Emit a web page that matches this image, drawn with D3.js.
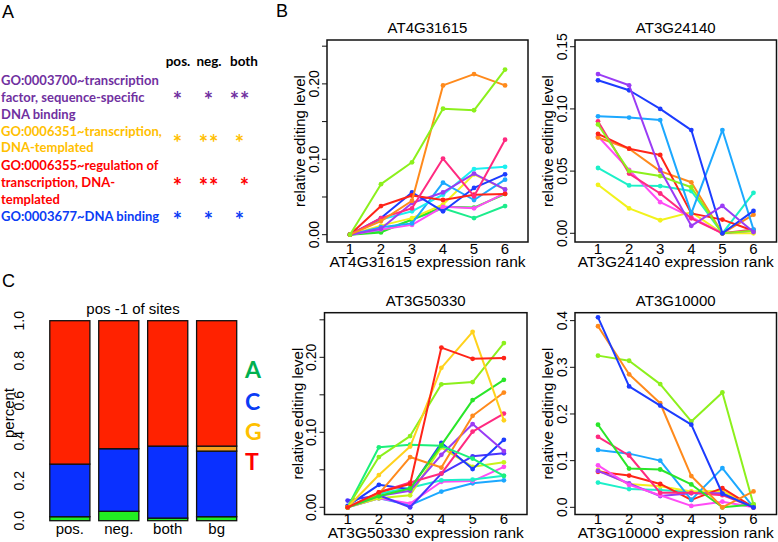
<!DOCTYPE html>
<html>
<head>
<meta charset="utf-8">
<script src="https://cdn.jsdelivr.net/npm/d3@7/dist/d3.min.js"></script>
<style>
  body { margin: 0; background: #fff; }
  svg { display: block; }
  .rfont { font-family: "Liberation Sans", Arial, sans-serif; }
  .cfont { font-family: Lato, "Open Sans", sans-serif; font-weight: bold; }
</style>
</head>
<body>
<div id="fig"></div>
<script>
(function() {

const w = 778;
const h = 542;

// ---- panel A data ----
const goTerms = ["GO:0003700", "GO:0006351", "GO:0006355", "GO:0003677"];
const goLines = [
    ["GO:0003700~transcription", "factor, sequence-specific", "DNA binding"],
    ["GO:0006351~transcription,", "DNA-templated"],
    ["GO:0006355~regulation of", "transcription, DNA-", "templated"],
    ["GO:0003677~DNA binding"]
];
const goGroups = ["pos.", "neg.", "both"];
const goStars = [
    [1, 1, 2],
    [1, 2, 1],
    [1, 2, 1],
    [1, 1, 1]
];

// ---- panel C data ----
const bases = ["A", "C", "G", "T"];
const siteGroups = ["pos.", "neg.", "both", "bg"];
const fracA = [0.020, 0.047, 0.013, 0.020];
const fracC = [0.263, 0.313, 0.360, 0.328];
const fracG = [0.000, 0.000, 0.000, 0.025];
const fracT = [0.717, 0.640, 0.627, 0.627];

// ---- panel B data ----
const ranks = [1, 2, 3, 4, 5, 6];
const genes = ["AT4G31615", "AT3G24140", "AT3G50330", "AT3G10000"];

const at4g31615Series = ["spring", "green", "yellow", "magenta", "azure", "cyan", "violet",
    "blue", "red", "rose", "orange", "chartreuse"];
const at4g31615Values = [
    [0, 0.005, 0.020, 0.035, 0.022, 0.038],
    [0, 0.003, 0.020, 0.037, 0.036, 0.054],
    [0, 0.012, 0.022, 0.040, 0.080, 0.060],
    [0, 0.007, 0.013, 0.037, 0.035, 0.055],
    [0, 0.010, 0.015, 0.069, 0.046, 0.073],
    [0, 0.020, 0.031, 0.053, 0.087, 0.090],
    [0, 0.008, 0.042, 0.056, 0.081, 0.060],
    [0, 0.022, 0.056, 0.031, 0.062, 0.080],
    [0, 0.038, 0.052, 0.046, 0.053, 0.054],
    [0, 0.022, 0.035, 0.101, 0.051, 0.126],
    [0, 0.018, 0.045, 0.198, 0.213, 0.198],
    [0, 0.067, 0.096, 0.167, 0.165, 0.219]
];

const at3g24140Series = ["yellow", "aquamarine", "magenta", "orange", "red", "rose",
    "chartreuse", "azure", "blue", "violet"];
const at3g24140Values = [
    [0.039, 0.020, 0.0105, 0.017, 0.000, 0.000],
    [0.0525, 0.0385, 0.038, 0.034, 0.000, 0.0325],
    [0.078, 0.051, 0.025, 0.013, 0.000, 0.002],
    [0.077, 0.068, 0.050, 0.041, 0.000, 0.015],
    [0.080, 0.068, 0.063, 0.016, 0.011, 0.002],
    [0.090, 0.048, 0.032, 0.012, 0.000, 0.003],
    [0.0875, 0.050, 0.046, 0.037, 0.000, 0.002],
    [0.094, 0.093, 0.091, 0.016, 0.083, 0.003],
    [0.123, 0.115, 0.100, 0.083, 0.000, 0.018],
    [0.128, 0.119, 0.051, 0.006, 0.022, 0.001]
];

const at3g50330Series = ["azure", "magenta", "aquamarine", "yellowgreen", "indigo", "blue",
    "violet", "rose", "orange", "mint", "green", "chartreuse", "gold", "red"];
const at3g50330Values = [
    [0, 0.012, 0.003, 0.021, 0.032, 0.036],
    [0, 0.012, 0.005, 0.034, 0.035, 0.054],
    [0, 0.018, 0.026, 0.036, 0.037, 0.042],
    [0, 0.012, 0.016, 0.080, 0.054, 0.060],
    [0.009, 0.016, 0.000, 0.045, 0.068, 0.072],
    [0.002, 0.030, 0.024, 0.086, 0.051, 0.090],
    [0, 0.015, 0.022, 0.070, 0.111, 0.075],
    [0, 0.020, 0.033, 0.045, 0.101, 0.125],
    [0, 0.018, 0.067, 0.053, 0.122, 0.153],
    [0, 0.080, 0.0835, 0.082, 0.065, 0.042],
    [0, 0.015, 0.025, 0.083, 0.143, 0.170],
    [0, 0.067, 0.095, 0.164, 0.167, 0.219],
    [0, 0.043, 0.081, 0.186, 0.234, 0.116],
    [0, 0.020, 0.031, 0.213, 0.198, 0.199]
];

const at3g10000Series = ["aquamarine", "yellow", "red", "violet", "magenta", "azure", "rose",
    "green", "chartreuse", "orange", "blue"];
const at3g10000Values = [
    [0.053, 0.039, 0.037, 0.033, 0.034, 0],
    [0.080, 0.050, 0.045, 0.034, 0.035, 0],
    [0.076, 0.068, 0.050, 0.016, 0.041, 0],
    [0.078, 0.051, 0.024, 0.030, 0.030, 0],
    [0.090, 0.048, 0.026, 0.003, 0.012, 0],
    [0.123, 0.115, 0.100, 0.016, 0.084, 0],
    [0.151, 0.111, 0.031, 0.031, 0.026, 0],
    [0.177, 0.083, 0.081, 0.049, 0.000, 0.006],
    [0.325, 0.314, 0.264, 0.184, 0.246, 0.006],
    [0.388, 0.285, 0.223, 0.067, 0.000, 0.034],
    [0.407, 0.259, 0.218, 0.177, 0.029, 0]
];

// ---- styles ----
const goColors = ["#7030a0", "#ffc000", "#ff0000", "#0a3cf5"];
const baseColors = {A: "#22ee22", C: "#0a30ff", G: "#f5a020", T: "#ff2200"};
const legendColors = {A: "#00b050", C: "#0a3cf5", G: "#ffc000", T: "#ff0000"};
const hueColors = {
    red: "#ff2418", orange: "#ff8a1c", gold: "#ffd21c", yellow: "#f2f21c",
    yellowgreen: "#c8f21c", chartreuse: "#8cf01c", green: "#2ae62a", mint: "#1cf07a",
    spring: "#1cec8c", aquamarine: "#1cf0c8", cyan: "#1cf0f0", azure: "#1ca8ff",
    blue: "#1c3cff", indigo: "#4a34ff", violet: "#9a3cf5", magenta: "#ff4cf5",
    rose: "#ff2a80"
};

const svg = d3.select("#fig")
    .append("svg")
    .attr("width", w)
    .attr("height", h);

// panel letters
svg.append("text").attr("class", "rfont").attr("x", 2).attr("y", 18)
    .attr("font-size", 18).text("A");
svg.append("text").attr("class", "rfont").attr("x", 276).attr("y", 17)
    .attr("font-size", 18).text("B");
svg.append("text").attr("class", "rfont").attr("x", 2).attr("y", 287)
    .attr("font-size", 18).text("C");

// ================= panel A =================
const colX = d3.scalePoint().domain(goGroups).range([178, 240]);
const lineYs = [[80, 97, 114], [131.5, 147], [165, 182.5, 199], [216.5]];
const starYs = [97, 139.5, 182.5, 216.5];

svg.selectAll(".ghead")
    .data(goGroups)
    .enter()
    .append("text")
    .attr("class", "cfont ghead")
    .attr("x", function(d) { return colX(d) + (d == "both" ? 4 : 0); })
    .attr("y", 61)
    .attr("dy", "0.35em")
    .attr("text-anchor", "middle")
    .attr("font-size", 13.5)
    .attr("fill", "#000")
    .text(function(d) { return d; });

goLines.forEach(function(lines, i) {
    svg.selectAll(".go" + i)
        .data(lines)
        .enter()
        .append("text")
        .attr("class", "cfont go" + i)
        .attr("x", 1)
        .attr("y", function(d, j) { return lineYs[i][j]; })
        .attr("dy", "0.35em")
        .attr("font-size", 13)
        .attr("fill", goColors[i])
        .text(function(d) { return d; });

    svg.selectAll(".star" + i)
        .data(goStars[i])
        .enter()
        .append("text")
        .attr("class", "cfont star" + i)
        .attr("x", function(d, j) { return colX(goGroups[j]) + (i == 2 && j == 2 ? 5 : 0); })
        .attr("y", starYs[i] + 11)
        .attr("text-anchor", "middle")
        .attr("font-size", 22)
        .attr("letter-spacing", 1)
        .attr("fill", goColors[i])
        .text(function(d) { return "*".repeat(d); });
});

// ================= panel C =================
const cTable = siteGroups.map(function(g, i) {
    return {group: g, A: fracA[i], C: fracC[i], G: fracG[i], T: fracT[i]};
});
const stacked = d3.stack().keys(bases)(cTable);

const cx = d3.scaleBand()
    .domain(siteGroups)
    .range([40, 246.5])
    .paddingInner(0.18)
    .paddingOuter(0.2);
const cy = d3.scaleLinear().domain([0, 1]).range([520.7, 320.7]);

const cg = svg.append("g");
stacked.forEach(function(layer) {
    cg.selectAll(".bar" + layer.key)
        .data(layer)
        .enter()
        .append("rect")
        .attr("x", function(d) { return cx(d.data.group); })
        .attr("y", function(d) { return cy(d[1]); })
        .attr("width", cx.bandwidth())
        .attr("height", function(d) { return Math.max(0, cy(d[0]) - cy(d[1])); })
        .attr("fill", baseColors[layer.key])
        .attr("stroke", "#111")
        .attr("stroke-width", 1.3)
        .filter(function(d) { return d[1] - d[0] <= 0; })
        .remove();
});

cg.selectAll(".cytick")
    .data(cy.ticks(5))
    .enter()
    .append("text")
    .attr("class", "rfont")
    .attr("transform", function(d) { return `translate(19,${cy(d)}) rotate(-90)`; })
    .attr("text-anchor", "middle")
    .attr("dy", "0.35em")
    .attr("font-size", 14)
    .text(function(d) { return d3.format(".1f")(d); });

cg.append("text")
    .attr("class", "rfont")
    .attr("transform", "translate(9,413) rotate(-90)")
    .attr("text-anchor", "middle")
    .attr("dy", "0.35em")
    .attr("font-size", 15)
    .text("percent");

cg.selectAll(".cxlab")
    .data(siteGroups)
    .enter()
    .append("text")
    .attr("class", "rfont")
    .attr("x", function(d) { return cx(d) + cx.bandwidth() / 2; })
    .attr("y", 529)
    .attr("dy", "0.35em")
    .attr("text-anchor", "middle")
    .attr("font-size", 15)
    .text(function(d) { return d; });

cg.append("text")
    .attr("class", "rfont")
    .attr("x", 133)
    .attr("y", 309)
    .attr("dy", "0.35em")
    .attr("text-anchor", "middle")
    .attr("font-size", 15)
    .text("pos -1 of sites");

const legendYs = [378, 410, 440, 470];
cg.selectAll(".baselegend")
    .data(bases)
    .enter()
    .append("text")
    .attr("class", "cfont")
    .attr("x", 245)
    .attr("y", function(d, i) { return legendYs[i]; })
    .attr("font-size", 23)
    .attr("fill", function(d) { return legendColors[d]; })
    .text(function(d) { return d; });

// ================= panel B =================
const plots = [
    {gene: genes[0], series: at4g31615Series, values: at4g31615Values,
     left: 327, right: 528, top: 40, bottom: 242, yDom: [-0.0097, 0.2582],
     ticks: [0, 0.05, 0.10, 0.15, 0.20, 0.25], labels: [0, 0.10, 0.20], fmt: ".2f"},
    {gene: genes[1], series: at3g24140Series, values: at3g24140Values,
     left: 575, right: 776.5, top: 40, bottom: 242, yDom: [-0.007, 0.1554],
     ticks: [0, 0.05, 0.10, 0.15], labels: [0, 0.05, 0.10, 0.15], fmt: ".2f"},
    {gene: genes[2], series: at3g50330Series, values: at3g50330Values,
     left: 324.5, right: 527, top: 312.7, bottom: 514.5, yDom: [-0.0096, 0.2595],
     ticks: [0, 0.05, 0.10, 0.15, 0.20, 0.25], labels: [0, 0.10, 0.20], fmt: ".2f"},
    {gene: genes[3], series: at3g10000Series, values: at3g10000Values,
     left: 575, right: 776.5, top: 312.7, bottom: 514.5, yDom: [-0.0154, 0.417],
     ticks: [0, 0.1, 0.2, 0.3, 0.4], labels: [0, 0.1, 0.2, 0.3, 0.4], fmt: ".1f"}
];

plots.forEach(function(p, k) {
    const g = svg.append("g");

    const xScale = d3.scaleLinear()
        .domain([0.26, 6.74])
        .range([p.left, p.right]);
    const yScale = d3.scaleLinear()
        .domain(p.yDom)
        .range([p.bottom, p.top]);

    const line = d3.line()
        .x(function(d, i) { return xScale(ranks[i]); })
        .y(function(d) { return yScale(d); });

    p.values.forEach(function(vals, i) {
        const col = hueColors[p.series[i]];
        g.append("path")
            .datum(vals)
            .attr("d", line)
            .attr("fill", "none")
            .attr("stroke", col)
            .attr("stroke-width", 2)
            .attr("stroke-linejoin", "round");
        g.selectAll(".pt" + i)
            .data(vals)
            .enter()
            .append("circle")
            .attr("cx", function(d, j) { return xScale(ranks[j]); })
            .attr("cy", function(d) { return yScale(d); })
            .attr("r", 2.4)
            .attr("fill", col);
    });

    // box
    g.append("rect")
        .attr("x", p.left)
        .attr("y", p.top)
        .attr("width", p.right - p.left)
        .attr("height", p.bottom - p.top)
        .attr("fill", "none")
        .attr("stroke", "#111")
        .attr("stroke-width", 1.5);

    // y axis ticks
    g.selectAll(".ytick")
        .data(p.ticks)
        .enter()
        .append("line")
        .attr("x1", p.left - 5)
        .attr("x2", p.left)
        .attr("y1", function(d) { return yScale(d); })
        .attr("y2", function(d) { return yScale(d); })
        .attr("stroke", "#111")
        .attr("stroke-width", 1);

    g.selectAll(".ylab")
        .data(p.labels)
        .enter()
        .append("text")
        .attr("class", "rfont")
        .attr("transform", function(d) {
            return `translate(${p.left - 13},${yScale(d)}) rotate(-90)`;
        })
        .attr("text-anchor", "middle")
        .attr("dy", "0.35em")
        .attr("font-size", 14)
        .text(function(d) { return d3.format(p.fmt)(d); });

    g.append("text")
        .attr("class", "rfont")
        .attr("transform", `translate(${p.left - 27},${(p.top + p.bottom) / 2}) rotate(-90)`)
        .attr("text-anchor", "middle")
        .attr("dy", "0.35em")
        .attr("font-size", 15)
        .text("relative editing level");

    const labY = k < 2 ? p.bottom + 6.5 : p.bottom + 4.5;
    g.selectAll(".xlab")
        .data(ranks)
        .enter()
        .append("text")
        .attr("class", "rfont")
        .attr("x", function(d) { return xScale(d); })
        .attr("y", labY)
        .attr("dy", "0.35em")
        .attr("text-anchor", "middle")
        .attr("font-size", 15)
        .text(function(d) { return d; });

    g.append("text")
        .attr("class", "rfont")
        .attr("x", (p.left + p.right) / 2)
        .attr("y", k < 2 ? p.bottom + 19.5 : p.bottom + 18.5)
        .attr("dy", "0.35em")
        .attr("text-anchor", "middle")
        .attr("font-size", 15.5)
        .text(p.gene + " expression rank");

    g.append("text")
        .attr("class", "rfont")
        .attr("x", (p.left + p.right) / 2)
        .attr("y", p.top - 12)
        .attr("dy", "0.35em")
        .attr("text-anchor", "middle")
        .attr("font-size", 15)
        .text(p.gene);
});

})();
</script>
</body>
</html>
